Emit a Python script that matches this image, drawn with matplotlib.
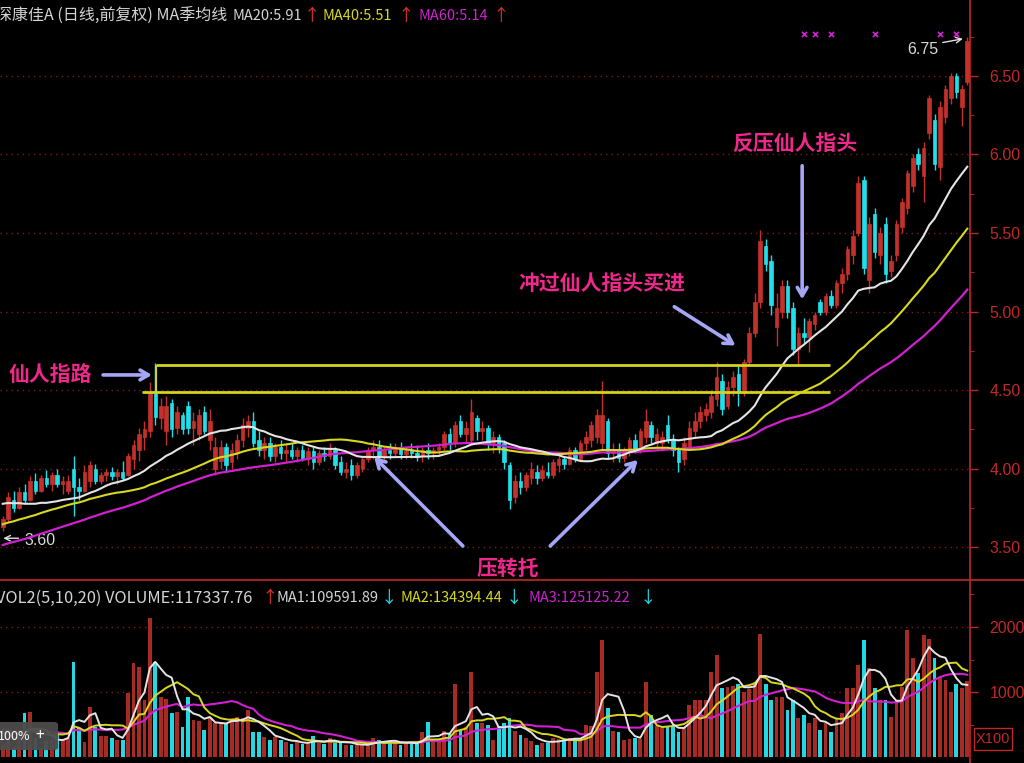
import numpy as np
import pandas as pd
import matplotlib
matplotlib.use("Agg")
import matplotlib.pyplot as plt
from matplotlib.patches import FancyBboxPatch, Rectangle
from matplotlib.lines import Line2D

plt.rcParams['font.family'] = ['Noto Sans CJK SC', 'DejaVu Sans']

# daily candles
opens = [3.63,3.68,3.80,3.75,3.85,3.80,3.92,3.86,3.94,3.90,
         3.96,3.90,3.86,4.00,3.88,3.86,3.92,4.00,3.92,3.96,
         3.98,3.95,3.98,3.96,4.06,4.12,4.20,4.24,4.48,4.32,
         4.24,4.42,4.26,4.34,4.40,4.26,4.22,4.36,4.18,4.00,
         4.05,4.14,4.04,4.10,4.18,4.26,4.30,4.18,4.12,4.16,
         4.08,4.14,4.10,4.12,4.08,4.12,4.07,4.11,4.04,4.10,
         4.08,4.12,4.04,3.98,4.02,3.96,4.00,4.06,4.12,4.14,
         4.08,4.12,4.10,4.13,4.09,4.12,4.10,4.08,4.12,4.10,
         4.12,4.14,4.22,4.16,4.30,4.22,4.18,4.32,4.24,4.26,
         4.16,4.20,4.16,4.02,3.82,3.92,3.88,3.94,3.98,3.94,
         3.98,3.96,4.02,4.06,4.03,4.12,4.06,4.16,4.18,4.20,
         4.16,4.30,4.10,4.12,4.07,4.12,4.18,4.12,4.20,4.28,
         4.16,4.16,4.28,4.18,4.12,4.06,4.14,4.24,4.30,4.34,
         4.36,4.44,4.56,4.40,4.52,4.60,4.48,4.68,4.86,5.06,
         5.42,5.32,4.90,5.00,5.16,5.02,4.76,4.86,4.84,4.92,
         5.06,5.00,5.10,5.04,5.18,5.24,5.36,5.50,5.84,5.20,
         5.62,5.36,5.56,5.26,5.36,5.54,5.66,5.80,6.00,5.86,
         6.14,6.22,5.92,6.24,6.36,6.50,6.30,6.46]
highs = [3.70,3.85,3.86,3.88,3.90,3.95,3.97,3.96,3.99,3.98,
         4.00,3.95,3.96,4.08,3.94,4.02,4.05,4.03,3.98,4.00,
         4.01,4.00,4.05,4.10,4.18,4.26,4.30,4.55,4.67,4.45,
         4.46,4.44,4.40,4.36,4.43,4.36,4.38,4.40,4.38,4.20,
         4.18,4.16,4.16,4.22,4.32,4.34,4.36,4.24,4.20,4.20,
         4.16,4.18,4.16,4.16,4.14,4.15,4.14,4.14,4.12,4.14,
         4.16,4.14,4.08,4.04,4.06,4.04,4.08,4.14,4.18,4.18,
         4.14,4.16,4.16,4.17,4.14,4.16,4.15,4.14,4.16,4.14,
         4.16,4.24,4.26,4.30,4.34,4.30,4.44,4.34,4.30,4.28,
         4.24,4.22,4.18,4.04,3.96,3.98,3.98,4.04,4.02,4.02,
         4.04,4.06,4.08,4.08,4.14,4.14,4.18,4.24,4.30,4.38,
         4.56,4.32,4.16,4.16,4.14,4.20,4.22,4.26,4.38,4.30,
         4.26,4.24,4.34,4.22,4.14,4.20,4.30,4.36,4.40,4.42,
         4.50,4.68,4.60,4.56,4.62,4.66,4.70,4.90,5.12,5.52,
         5.46,5.36,5.12,5.20,5.20,5.06,4.90,4.96,4.96,5.00,
         5.08,5.12,5.14,5.20,5.28,5.42,5.52,5.86,5.86,5.60,
         5.66,5.54,5.60,5.36,5.58,5.72,5.90,6.00,6.04,6.08,
         6.38,6.26,6.34,6.44,6.52,6.52,6.44,6.75]
lows = [3.60,3.66,3.72,3.74,3.78,3.79,3.84,3.85,3.88,3.86,
        3.88,3.84,3.84,3.70,3.80,3.85,3.88,3.90,3.90,3.92,
        3.93,3.90,3.93,3.95,4.00,4.05,4.12,4.20,4.28,4.25,
        4.15,4.20,4.22,4.22,4.22,4.15,4.18,4.22,4.12,3.96,
        4.00,3.98,4.00,4.06,4.14,4.20,4.14,4.08,4.06,4.05,
        4.04,4.06,4.04,4.06,4.04,4.05,4.02,4.00,4.02,4.05,
        4.06,4.00,3.96,3.94,3.93,3.94,3.98,4.04,4.06,4.06,
        4.05,4.06,4.08,4.06,4.06,4.07,4.05,4.04,4.06,4.06,
        4.08,4.12,4.12,4.14,4.20,4.16,4.16,4.18,4.18,4.12,
        4.10,4.10,4.00,3.74,3.78,3.84,3.86,3.90,3.90,3.92,
        3.94,3.94,3.98,4.00,4.02,4.04,4.05,4.12,4.14,4.16,
        4.12,4.06,4.04,4.04,4.04,4.08,4.10,4.10,4.16,4.16,
        4.12,4.12,4.16,4.08,3.98,4.02,4.12,4.20,4.26,4.30,
        4.32,4.40,4.34,4.38,4.46,4.40,4.46,4.66,4.84,5.02,
        5.26,4.98,4.78,4.96,4.96,4.72,4.66,4.80,4.74,4.88,
        4.98,4.98,5.02,5.02,5.12,5.20,5.30,5.48,5.24,5.12,
        5.34,5.30,5.18,5.22,5.32,5.50,5.62,5.76,5.90,5.70,
        6.10,5.90,5.84,6.20,6.32,6.36,6.18,6.44]
closes = [3.68,3.82,3.75,3.85,3.80,3.92,3.86,3.94,3.90,3.96,
          3.90,3.92,3.92,3.88,3.86,3.98,4.02,3.92,3.96,3.98,
          3.95,3.98,3.94,4.08,4.15,4.22,4.25,4.48,4.33,4.40,
          4.40,4.25,4.36,4.25,4.26,4.30,4.34,4.24,4.30,4.14,
          4.14,4.02,4.12,4.18,4.28,4.30,4.16,4.12,4.16,4.08,
          4.14,4.10,4.12,4.08,4.12,4.07,4.11,4.04,4.10,4.08,
          4.12,4.02,3.98,4.00,3.96,4.02,4.06,4.12,4.14,4.08,
          4.12,4.10,4.13,4.09,4.12,4.10,4.08,4.12,4.10,4.12,
          4.14,4.22,4.16,4.28,4.22,4.26,4.36,4.24,4.26,4.16,
          4.20,4.14,4.04,3.80,3.92,3.88,3.96,4.00,3.94,3.99,
          3.96,4.04,4.06,4.03,4.12,4.06,4.16,4.20,4.28,4.34,
          4.34,4.10,4.12,4.07,4.12,4.18,4.12,4.24,4.30,4.20,
          4.22,4.20,4.18,4.12,4.04,4.16,4.26,4.30,4.36,4.38,
          4.46,4.58,4.38,4.52,4.58,4.48,4.68,4.86,5.06,5.45,
          5.30,5.04,5.02,5.16,5.00,4.76,4.86,4.84,4.94,4.98,
          5.00,5.10,5.04,5.18,5.24,5.40,5.48,5.82,5.28,5.56,
          5.38,5.50,5.24,5.32,5.56,5.70,5.88,5.98,5.94,6.04,
          6.36,5.94,6.30,6.42,6.50,6.40,6.42,6.72]
# volume in hundreds (x100)
volumes = [200,300,140,350,680,690,300,140,250,280,
           370,260,300,1460,450,230,770,460,330,330,
           290,260,260,980,1450,1390,880,2140,1460,930,
           900,680,700,460,930,570,560,420,600,520,
           520,520,600,620,600,720,380,380,310,260,
           310,260,230,200,230,200,230,330,210,200,
           300,220,220,190,180,180,190,200,290,260,
           230,250,220,180,220,230,200,380,540,240,
           260,400,350,1130,420,460,1310,530,530,500,
           260,480,520,600,400,340,300,250,180,220,
           220,300,280,260,290,280,300,500,480,1310,
           1800,750,400,380,260,280,290,270,1150,650,
           480,450,480,460,380,460,800,880,880,880,
           1310,1570,1060,1080,1100,1130,1000,1050,1150,1900,
           1130,880,930,930,720,880,600,650,520,600,
           420,520,390,600,680,1060,1060,1410,1800,1370,
           1060,880,880,620,880,1080,1950,1520,1290,1880,
           1820,1520,1230,1180,1000,1130,1060,1173]

# history before the visible window, needed for the moving averages
prior_closes = [3.18,3.22,3.20,3.25,3.28,3.24,3.21,3.19,3.23,3.27,
                3.30,3.26,3.22,3.20,3.24,3.28,3.26,3.23,3.27,3.31,
                3.34,3.38,3.42,3.40,3.45,3.50,3.48,3.44,3.47,3.52,
                3.55,3.51,3.49,3.53,3.58,3.56,3.54,3.58,3.62,3.60,
                3.66,3.72,3.78,3.84,3.88,3.92,3.86,3.82,3.90,3.85,
                3.80,3.76,3.82,3.78,3.74,3.70,3.72,3.68,3.64,3.62]
prior_volumes = [420,380,510,460,390,440,520,480,360,410,
                 450,500,430,390,470,440,410,380,460,430]

# yellow guide lines (price levels) and signal marks
line_hi, line_lo = 4.66, 4.49
signal_idx = [147, 149, 152, 160, 172, 175]

BG = 'black'
RED = '#c4302a'
CYAN = '#1fe0ea'
AXRED = '#c02828'
WHITE = '#e4e4e4'
YEL = '#d8d820'
MAG = '#d020d0'
PINK = '#f0288c'
LAV = '#a6a6f6'

n = len(closes)
x = np.arange(n)
o = np.array(opens); c = np.array(closes)
h = np.array(highs); l = np.array(lows)
up = c >= o
ccol = np.where(up, RED, CYAN)

allc = pd.Series(prior_closes + closes)
ma20 = allc.rolling(20).mean().values[len(prior_closes):]
ma40 = allc.rolling(40).mean().values[len(prior_closes):]
ma60 = allc.rolling(60).mean().values[len(prior_closes):]
allv = pd.Series(prior_volumes + volumes)
vma5 = allv.rolling(5).mean().values[len(prior_volumes):]
vma10 = allv.rolling(10).mean().values[len(prior_volumes):]
vma20 = allv.rolling(20).mean().values[len(prior_volumes):]

fig = plt.figure(figsize=(10.24, 7.63), dpi=100, facecolor=BG)
split = 1 - 580 / 763
ax = fig.add_axes([0, split, 970 / 1024, 1 - split], facecolor=BG)
axv = fig.add_axes([0, 0, 970 / 1024, split], facecolor=BG)

for a in (ax, axv):
    a.set_xlim(-0.5, n - 0.5)
    for s in ('top', 'left', 'bottom'):
        a.spines[s].set_visible(False)
    a.spines['right'].set_color(AXRED)
    a.spines['right'].set_linewidth(1.2)
    a.yaxis.tick_right()
    a.tick_params(axis='y', colors=AXRED, labelcolor=AXRED, length=6, width=1,
                  pad=8, labelsize=11.5)
    a.tick_params(axis='y', which='minor', colors=AXRED, length=3)
    a.set_xticks([])

# price panel
ax.set_ylim(3.29, 6.984)
ax.set_yticks([3.5, 4.0, 4.5, 5.0, 5.5, 6.0, 6.5])
ax.set_yticklabels(['3.50', '4.00', '4.50', '5.00', '5.50', '6.00', '6.50'],
                   family='Liberation Sans')
ax.set_yticks(np.arange(3.5, 6.9, 0.25), minor=True)
ax.grid(axis='y', color='#7a1c1c', linestyle=(0, (1, 3)), lw=1)

ax.vlines(x, l, h, colors=ccol, lw=1, zorder=2)
body = np.maximum(np.abs(c - o), 0.008)
ax.bar(x, body, bottom=np.minimum(o, c), width=0.66, color=ccol,
       edgecolor=ccol, lw=0.5, zorder=3)

ax.plot(x, ma60, color=MAG, lw=1.6, zorder=4)
ax.plot(x, ma40, color=YEL, lw=1.5, zorder=4)
ax.plot(x, ma20, color=WHITE, lw=1.5, zorder=4)

# yellow guide lines
ax.hlines(line_hi, 28.1, 151.8, color='#d4d41c', lw=2, zorder=5)
ax.hlines(line_lo, 25.6, 151.8, color='#d4d41c', lw=2, zorder=5)
ax.vlines(28.1, line_lo, line_hi, color='#d4d41c', lw=1.5, zorder=5)

# annotations
kw = dict(color=PINK, fontsize=15, fontweight='bold', ha='center', va='center', zorder=6)
ax.text(8.7, 4.596, '仙人指路', **kw)
ax.text(110.0, 5.18, '冲过仙人指头买进', **kw)
ax.text(145.4, 6.07, '反压仙人指头', **kw)
ax.text(92.7, 3.366, '压转托', **kw)

arr = dict(arrowstyle='->,head_length=0.6,head_width=0.35', color=LAV, lw=2.6)
ax.annotate('', xy=(27.9, 4.596), xytext=(17.9, 4.596), arrowprops=arr, zorder=6)
ax.annotate('', xy=(134.9, 4.774), xytext=(122.8, 5.04), arrowprops=arr, zorder=6)
ax.annotate('', xy=(146.7, 5.06), xytext=(146.7, 5.946), arrowprops=arr, zorder=6)
ax.annotate('', xy=(67.8, 4.086), xytext=(84.8, 3.494), arrowprops=arr, zorder=6)
ax.annotate('', xy=(116.9, 4.067), xytext=(100.1, 3.494), arrowprops=arr, zorder=6)

# high / low markers
ax.text(168.8, 6.668, '6.75', color='#d8d8d8', fontsize=11.5, ha='center', va='center',
        family='Liberation Sans')
ax.annotate('', xy=(176.7, 6.74), xytext=(172.0, 6.71),
            arrowprops=dict(arrowstyle='->', color='#e0e0e0', lw=1))
ax.text(6.8, 3.54, '3.60', color='#d8d8d8', fontsize=11.5, ha='center', va='center',
        family='Liberation Sans')
ax.annotate('', xy=(-0.4, 3.556), xytext=(3.4, 3.556),
            arrowprops=dict(arrowstyle='->', color='#e0e0e0', lw=1))
ax.scatter(signal_idx, [6.765] * len(signal_idx), marker='x', s=14, color=MAG, lw=1.2, zorder=6)

# volume panel
axv.set_ylim(-92, 2723)
axv.set_yticks([1000, 2000])
axv.set_yticklabels(['1000', '2000'], family='Liberation Sans')
axv.set_yticks([500, 1500, 2500], minor=True)
axv.grid(axis='y', color='#7a1c1c', linestyle=(0, (1, 3)), lw=1)
vcol = np.where(up, '#a82a24', '#22d8e2')
axv.bar(x, volumes, width=0.7, color=vcol, zorder=2)
axv.plot(x, vma20, color=MAG, lw=1.5, zorder=3)
axv.plot(x, vma10, color=YEL, lw=1.4, zorder=3)
axv.plot(x, vma5, color=WHITE, lw=1.4, zorder=3)

# separator between panels
fig.add_artist(Line2D([0, 1], [split, split], transform=fig.transFigure, color=AXRED, lw=1.2))

# header lines
def ftext(px, py, s, col, size=10.5):
    fig.text(px / 1024, 1 - py / 763, s, color=col, fontsize=size, va='center', ha='left')

ftext(-4, 16, '深康佳A (日线,前复权) MA季均线', '#d4d4d4', 11.5)
ftext(232, 16, 'MA20:5.91', '#d4d4d4')
ftext(304, 16, '↑', '#e03030', 12)
ftext(322, 16, 'MA40:5.51', YEL)
ftext(398, 16, '↑', '#e03030', 12)
ftext(418, 16, 'MA60:5.14', MAG)
ftext(493, 16, '↑', '#e03030', 12)

ftext(-4, 598, 'VOL2(5,10,20) VOLUME:117337.76', '#d4d4d4', 11.8)
ftext(262, 598, '↑', '#e03030', 12)
ftext(277, 598, 'MA1:109591.89', '#d4d4d4')
ftext(381, 598, '↓', CYAN, 12)
ftext(400, 598, 'MA2:134394.44', YEL)
ftext(506, 598, '↓', CYAN, 12)
ftext(528, 598, 'MA3:125125.22', MAG)
ftext(640, 598, '↓', CYAN, 12)

# X100 unit box
fig.add_artist(Rectangle((974 / 1024, 1 - 750 / 763), 38 / 1024, 22 / 763,
                         transform=fig.transFigure, fill=False, edgecolor=AXRED, lw=1))
fig.text(993 / 1024, 1 - 739 / 763, 'X100', color=AXRED, fontsize=10.5, ha='center',
         va='center', family='Liberation Sans')

# zoom overlay from the screenshot
fig.add_artist(FancyBboxPatch((-12 / 1024, 1 - 747 / 763), 66 / 1024, 22 / 763,
                              boxstyle='round,pad=0.004', transform=fig.transFigure,
                              facecolor='#4c4c4c', edgecolor='none', alpha=0.95))
fig.text(14 / 1024, 1 - 736 / 763, '100%', color='white', fontsize=9, ha='center', va='center')
fig.text(40 / 1024, 1 - 736 / 763, '+', color='white', fontsize=11, ha='center', va='center')

fig.savefig('out.png', dpi=100, facecolor=BG)
